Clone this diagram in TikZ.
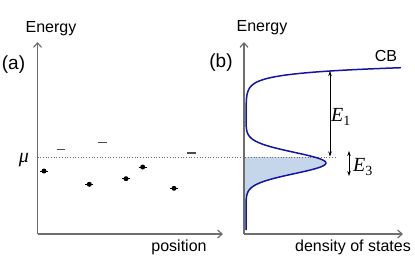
\documentclass[tikz,border=0pt]{standalone}
\usepackage{fontspec}
\setmainfont{Liberation Sans}
\newfontfamily\tms{Liberation Serif}
\usetikzlibrary{arrows.meta}
\definecolor{axisgray}{HTML}{6E6E6E}
\definecolor{dosblue}{HTML}{1414A6}
\definecolor{fillblue}{HTML}{C5D6EB}
\tikzset{
  axis/.style={draw=axisgray, line width=1.2pt, -{Straight Barb[length=4.5pt,width=8pt]}},
  lbl/.style={inner sep=0pt, font=\fontsize{16}{18}\selectfont},
  panel/.style={inner sep=0pt, font=\fontsize{19}{21}\selectfont},
  mathlbl/.style={inner sep=0pt, font=\fontsize{20}{22}\selectfont\tms\itshape},
  gap/.style={draw=black, line width=0.6pt, {Stealth[length=5pt,width=3.5pt]}-{Stealth[length=5pt,width=3.5pt]}},
  level/.style={draw=black!70, line width=1.1pt},
  state/.style={circle, fill=black, inner sep=0pt, minimum size=5pt},
}
\begin{document}
\begin{tikzpicture}[x=1pt,y=-1pt]
\useasboundingbox (0,0) rectangle (415,277);
% axes (a)
\coordinate (oa) at (37.5,234);
\coordinate (ya) at (37.5,42);
\coordinate (xa) at (223,234);
\draw[axis] (oa) -- (ya);
\draw[axis] (oa) -- (xa);
% axes (b)
\coordinate (ob) at (244,234);
\coordinate (yb) at (244,42);
\coordinate (xb) at (403,234);
% fill
\fill[fillblue] plot[domain=157:230, samples=100, variable=\t]
  ({246 + 84*exp(-(\t-71)/5.4) + 80*exp(-((\t-163)/15)^2)}, {\t}) -- (244,230) -- (244,157) -- cycle;
\draw[axis] (ob) -- (yb);
\draw[axis] (ob) -- (xb);
% chemical potential
\coordinate (mul) at (37.5,157);
\coordinate (mur) at (335,157);
\draw[axisgray, line width=0.7pt, dotted] (mul) -- (mur);
% DOS curve
\draw[dosblue, line width=1.5pt, line join=round]
  plot[domain=67.7:92, samples=80, variable=\t]
  ({246 + 84*exp(-(\t-71)/5.4) + 80*exp(-((\t-163)/15)^2)}, {\t})
  -- plot[domain=92:230, samples=140, variable=\t]
  ({246 + 84*exp(-(\t-71)/5.4) + 80*exp(-((\t-163)/15)^2)}, {\t});
% gap arrows
\coordinate (e1t) at (330,71);
\coordinate (e1b) at (330,156.5);
\draw[gap] (e1t) -- (e1b);
\coordinate (e3t) at (349,151);
\coordinate (e3b) at (349,176);
\draw[gap] (e3t) -- (e3b);
% states
\foreach \n/\x/\y in {s1/44/171, s2/89.3/184.3, s3/126/178.7, s4/142.7/167, s5/174/188.3}{
  \node[state] (\n) at (\x,\y) {};
  \draw[black, line width=0.8pt] ([xshift=-4pt]\n.center) -- ([xshift=4pt]\n.center);
}
\foreach \n/\xa/\xb/\y in {d1/56.7/65.3/149.3, d2/98.3/107.3/142.7, d3/187/195.7/153}{
  \coordinate (\n l) at (\xa,\y);
  \coordinate (\n r) at (\xb,\y);
  \draw[level] (\n l) -- (\n r);
}
% labels
\node[lbl] (ena) at (51,29) {Energy};
\node[lbl] (enb) at (262,28) {Energy};
\node[panel] (pa) at (13.5,65) {(a)};
\node[panel] (pb) at (221,63) {(b)};
\node[lbl] (cb) at (386,56) {CB};
\node[lbl] (pos) at (179,247) {position};
\node[lbl] (dos) at (353,247) {density of states};
\node[mathlbl] (mu) at (24,160) {μ};
\node[mathlbl] (E1) at (341,117) {E\textsubscript{\upshape 1}};
\node[mathlbl] (E3) at (363,167) {E\textsubscript{\upshape 3}};
\end{tikzpicture}
\end{document}
